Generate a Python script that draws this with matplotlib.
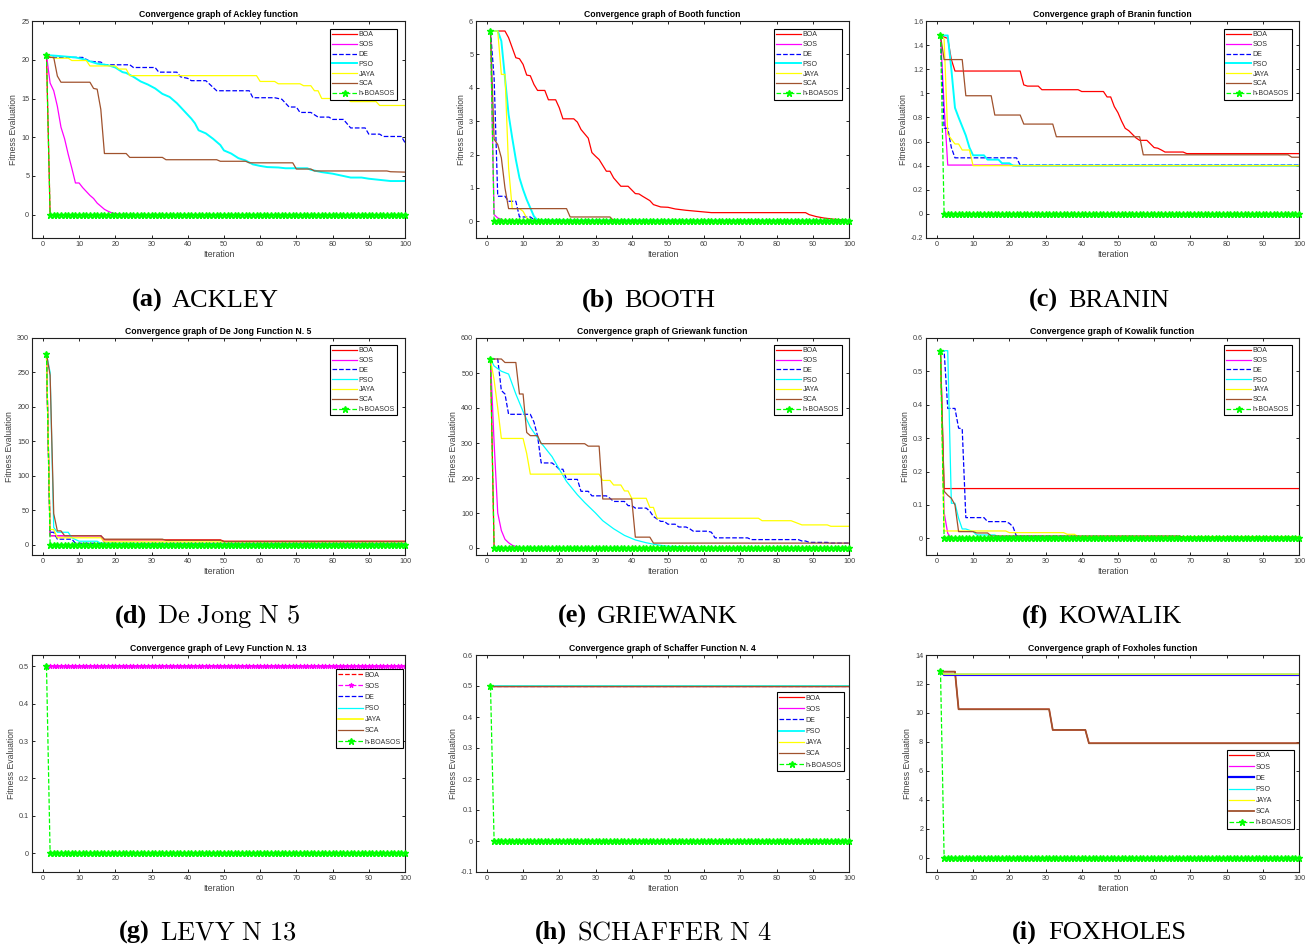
import matplotlib
matplotlib.use('Agg')
import matplotlib.pyplot as plt
from matplotlib.ticker import FormatStrFormatter

plt.rcParams['font.family'] = ['Liberation Sans', 'DejaVu Sans']
plt.rcParams['axes.unicode_minus'] = False

ALGOS = ['BOA', 'SOS', 'DE', 'PSO', 'JAYA', 'SCA', 'h-BOASOS']
ITER = list(range(1, 101))
XTICKS = list(range(0, 101, 10))

# ---------------- data: (iterations, fitness) ----------------
ackley = {
    'BOA': ([1, 2, 100], [20.6, 0, 0]),
    'SOS': ([1, 2, 3, 4, 5, 6, 7, 8, 9, 10, 11, 12, 13, 14, 15, 16, 17, 18, 19, 20, 21, 22, 100],
            [20.6, 17.0, 16.0, 14.0, 11.3, 9.8, 7.8, 6.0, 4.1, 4.1, 3.5, 3.0, 2.5, 2.1, 1.5, 1.1, 0.7,
             0.45, 0.25, 0.15, 0.08, 0.03, 0.0]),
    'DE': ([1, 2, 11, 13, 16, 17, 24, 25, 31, 32, 37, 38, 40, 41, 45, 48, 57, 58, 64, 66, 68, 70, 71, 74,
            76, 79, 80, 83, 85, 89, 90, 93, 94, 99, 100],
           [20.6, 20.3, 20.3, 19.8, 19.7, 19.35, 19.35, 19.0, 19.0, 18.4, 18.4, 17.8, 17.6, 17.3, 17.3,
            16.0, 16.0, 15.1, 15.1, 14.9, 13.9, 13.9, 13.2, 13.2, 12.6, 12.6, 12.3, 12.3, 11.2, 11.2,
            10.4, 10.4, 10.1, 10.1, 9.3]),
    'PSO': ([1, 4, 9, 11, 13, 15, 18, 20, 22, 23, 25, 27, 29, 31, 33, 35, 37, 39, 41, 42, 43, 45, 47, 49,
             50, 52, 54, 56, 58, 60, 62, 65, 67, 73, 74, 77, 80, 83, 85, 88, 90, 93, 96, 100],
            [20.6, 20.5, 20.3, 20.1, 19.8, 19.5, 19.3, 19.0, 18.4, 18.3, 17.8, 17.2, 16.8, 16.3, 15.6,
             15.2, 14.4, 13.4, 12.4, 11.8, 10.9, 10.5, 9.8, 9.0, 8.3, 7.9, 7.3, 7.0, 6.5, 6.3, 6.15, 6.1,
             6.0, 6.0, 5.8, 5.5, 5.3, 5.0, 4.8, 4.8, 4.65, 4.5, 4.35, 4.35]),
    'JAYA': ([1, 3, 7, 8, 12, 13, 20, 21, 23, 24, 59, 60, 64, 65, 71, 72, 74, 75, 76, 77, 84, 85, 92, 93, 100],
             [20.6, 20.2, 20.2, 19.9, 19.9, 19.2, 19.2, 18.8, 18.8, 17.95, 17.95, 17.2, 17.2, 16.9, 16.9,
              16.65, 16.65, 16.0, 16.0, 15.0, 15.0, 14.6, 14.6, 14.1, 14.1]),
    'SCA': ([1, 2, 3, 4, 5, 13, 14, 15, 16, 17, 23, 24, 33, 34, 48, 49, 56, 57, 69, 70, 74, 75, 95, 96, 100],
            [20.6, 20.3, 20.3, 17.9, 17.1, 17.1, 16.3, 16.2, 13.6, 7.9, 7.9, 7.4, 7.4, 7.1, 7.1, 6.9, 6.9,
             6.7, 6.7, 5.9, 5.9, 5.65, 5.65, 5.55, 5.5]),
}
ackley_h = [20.6] + [0.0] * 99

booth = {
    'BOA': ([1, 5, 6, 7, 8, 9, 10, 11, 12, 13, 14, 16, 17, 19, 20, 21, 24, 25, 26, 28, 29, 30, 31, 33, 34,
             35, 37, 39, 41, 42, 43, 45, 46, 48, 50, 52, 55, 58, 61, 62, 88, 89, 91, 93, 96, 99, 100],
            [5.7, 5.7, 5.5, 5.2, 4.9, 4.87, 4.7, 4.38, 4.36, 4.1, 3.92, 3.92, 3.64, 3.64, 3.4, 3.07, 3.07,
             2.97, 2.75, 2.49, 2.06, 1.95, 1.85, 1.5, 1.5, 1.3, 1.05, 1.05, 0.83, 0.82, 0.75, 0.62, 0.5,
             0.43, 0.42, 0.37, 0.33, 0.3, 0.27, 0.26, 0.26, 0.2, 0.14, 0.1, 0.06, 0.04, 0.02]),
    'SOS': ([1, 2, 3, 4, 5, 100], [5.7, 0.2, 0.1, 0.06, 0.0, 0.0]),
    'DE': ([1, 2, 3, 5, 6, 8, 9, 12, 13, 14, 100],
           [5.7, 4.3, 0.75, 0.75, 0.6, 0.6, 0.13, 0.13, 0.05, 0.0, 0.0]),
    'PSO': ([1, 3, 4, 5, 6, 7, 8, 9, 10, 11, 12, 13, 14, 100],
            [5.7, 5.7, 5.4, 4.3, 3.2, 2.5, 1.85, 1.3, 0.95, 0.65, 0.4, 0.15, 0.03, 0.02]),
    'JAYA': ([1, 3, 4, 5, 6, 7, 9, 10, 11, 12, 100],
             [5.7, 5.7, 4.4, 4.4, 1.6, 0.38, 0.38, 0.3, 0.1, 0.02, 0.02]),
    'SCA': ([1, 2, 3, 4, 5, 6, 22, 23, 34, 35, 100],
            [5.7, 2.46, 2.3, 1.9, 1.0, 0.38, 0.38, 0.13, 0.13, 0.02, 0.02]),
}
booth_h = [5.7] + [0.0] * 99

branin = {
    'BOA': ([1, 3, 4, 5, 23, 24, 25, 28, 29, 39, 40, 46, 47, 48, 49, 50, 51, 52, 53, 55, 56, 58, 60, 61,
             62, 63, 68, 69, 100],
            [1.48, 1.455, 1.28, 1.185, 1.185, 1.07, 1.06, 1.06, 1.03, 1.03, 1.015, 1.015, 0.97, 0.97,
             0.89, 0.84, 0.77, 0.71, 0.69, 0.63, 0.61, 0.61, 0.55, 0.545, 0.53, 0.513, 0.513, 0.50, 0.50]),
    'SOS': ([1, 2, 3, 20, 22, 100], [1.48, 0.9, 0.405, 0.405, 0.40, 0.40]),
    'DE': ([1, 2, 3, 4, 5, 22, 23, 100], [1.48, 0.71, 0.71, 0.55, 0.465, 0.465, 0.405, 0.405]),
    'PSO': ([1, 3, 4, 5, 6, 8, 9, 10, 13, 14, 17, 18, 20, 21, 100],
            [1.48, 1.48, 1.2, 0.88, 0.8, 0.65, 0.55, 0.486, 0.486, 0.45, 0.45, 0.42, 0.42, 0.40, 0.40]),
    'JAYA': ([1, 2, 3, 4, 5, 6, 7, 9, 10, 100],
             [1.48, 1.45, 0.66, 0.62, 0.58, 0.58, 0.53, 0.53, 0.40, 0.40]),
    'SCA': ([1, 2, 7, 8, 15, 16, 23, 24, 32, 33, 56, 57, 97, 98, 100],
            [1.48, 1.28, 1.28, 0.98, 0.98, 0.82, 0.82, 0.745, 0.745, 0.64, 0.64, 0.49, 0.49, 0.47, 0.47]),
}
branin_h = [1.48] + [0.0] * 99

dejong = {
    'BOA': ([1, 2, 16, 17, 49, 50, 100], [277, 13, 13, 7, 7, 5, 5]),
    'SOS': ([1, 2, 16, 17, 100], [277, 13, 13, 2, 2]),
    'DE': ([1, 2, 3, 4, 8, 9, 20, 21, 100], [277, 18, 18, 8, 8, 2, 2, 1, 1]),
    'PSO': ([1, 2, 3, 4, 7, 8, 10, 15, 16, 25, 26, 100], [277, 250, 25, 18, 18, 10, 5, 5, 2, 2, 1, 1]),
    'JAYA': ([1, 2, 3, 4, 16, 17, 100], [277, 22, 22, 10, 10, 4, 4]),
    'SCA': ([1, 2, 3, 4, 5, 6, 16, 17, 33, 34, 49, 50, 100],
            [277, 246, 45, 20, 20, 13, 13, 8, 8, 6.3, 6.3, 4.5, 4.5]),
}
dejong_h = [277] + [0.0] * 99

griewank = {
    'BOA': ([1, 2, 100], [540, 0, 0]),
    'SOS': ([1, 2, 3, 4, 5, 6, 7, 8, 9, 10, 100], [540, 300, 100, 50, 25, 15, 8, 4, 1, 0, 0]),
    'DE': ([1, 3, 4, 5, 6, 12, 13, 14, 15, 18, 19, 20, 21, 22, 25, 26, 28, 29, 33, 34, 35, 38, 39, 40, 41,
            44, 45, 46, 48, 49, 50, 52, 53, 55, 56, 57, 61, 62, 63, 72, 73, 86, 87, 88, 89, 94, 95, 100],
           [540, 540, 450, 440, 382, 382, 360, 320, 243, 243, 235, 225, 225, 196, 196, 162, 162, 149, 149,
            142, 133, 133, 121, 121, 114, 114, 105, 90, 76, 76, 68, 68, 60, 60, 55, 48, 48, 45, 29, 29,
            24, 24, 20, 20, 16, 16, 14, 14]),
    'PSO': ([1, 2, 4, 6, 8, 10, 12, 15, 18, 20, 22, 25, 27, 30, 32, 35, 38, 41, 44, 47, 50, 55, 60, 65, 100],
            [540, 520, 505, 497, 440, 390, 345, 300, 261, 225, 190, 152, 130, 100, 78, 55, 36, 23, 15, 9,
             5, 3, 2, 1, 0.5]),
    'JAYA': ([1, 2, 3, 4, 10, 11, 12, 31, 32, 34, 35, 37, 38, 39, 40, 44, 45, 46, 47, 75, 76, 84, 86, 87,
              94, 95, 100],
             [540, 480, 400, 313, 313, 270, 211, 211, 193, 193, 180, 180, 163, 163, 142, 142, 116, 116, 85,
              85, 78, 78, 70, 66, 66, 62, 62]),
    'SCA': ([1, 4, 5, 8, 9, 10, 11, 12, 14, 15, 27, 28, 31, 32, 40, 41, 45, 46, 100],
            [540, 540, 530, 530, 440, 440, 330, 321, 321, 298, 298, 291, 291, 140, 140, 31, 31, 14, 14]),
}
griewank_h = [540] + [0.0] * 99

kowalik = {
    'BOA': ([1, 2, 100], [0.562, 0.149, 0.149]),
    'SOS': ([1, 2, 3, 4, 100], [0.562, 0.077, 0.015, 0.0, 0.0]),
    'DE': ([1, 2, 3, 5, 6, 7, 8, 13, 14, 19, 20, 21, 22, 35, 36, 100],
           [0.562, 0.562, 0.389, 0.389, 0.33, 0.328, 0.062, 0.062, 0.05, 0.05, 0.045, 0.035, 0.006, 0.006,
            0.003, 0.003]),
    'PSO': ([1, 3, 4, 5, 6, 7, 8, 10, 11, 16, 17, 35, 36, 100],
            [0.562, 0.562, 0.105, 0.105, 0.06, 0.028, 0.028, 0.02, 0.01, 0.01, 0.005, 0.005, 0.002, 0.002]),
    'JAYA': ([1, 2, 19, 20, 35, 36, 38, 39, 100],
             [0.562, 0.022, 0.022, 0.017, 0.017, 0.012, 0.012, 0.005, 0.005]),
    'SCA': ([1, 2, 3, 4, 5, 6, 10, 11, 14, 15, 67, 68, 100],
            [0.562, 0.141, 0.129, 0.12, 0.1, 0.02, 0.02, 0.016, 0.016, 0.007, 0.007, 0.003, 0.003]),
}
kowalik_h = [0.562] + [0.0] * 99

levy = {
    'BOA': ([1, 100], [0.5, 0.5]),
    'SOS': (ITER, [0.5] * 100),
    'DE': ([1, 100], [0.5, 0.5]),
    'PSO': ([1, 100], [0.5, 0.5]),
    'JAYA': ([1, 100], [0.5, 0.5]),
    'SCA': ([1, 100], [0.5, 0.5]),
}
levy_h = [0.5] + [0.0] * 99

schaffer = {
    'BOA': ([1, 100], [0.5, 0.5]),
    'SOS': ([1, 100], [0.5, 0.5]),
    'DE': ([1, 100], [0.5, 0.5]),
    'PSO': ([1, 100], [0.5, 0.5]),
    'JAYA': ([1, 100], [0.5, 0.5]),
    'SCA': ([1, 100], [0.5, 0.5]),
}
schaffer_h = [0.5] + [0.0] * 99

foxholes = {
    'BOA': ([1, 5, 6, 31, 32, 41, 42, 100], [12.85, 12.85, 10.25, 10.25, 8.82, 8.82, 7.9, 7.9]),
    'SOS': ([1, 2, 100], [12.87, 12.65, 12.65]),
    'DE': ([1, 2, 100], [12.87, 12.62, 12.62]),
    'PSO': ([1, 2, 100], [12.87, 12.67, 12.67]),
    'JAYA': ([1, 2, 100], [12.87, 12.68, 12.68]),
    'SCA': ([1, 5, 6, 31, 32, 41, 42, 100], [12.85, 12.85, 10.25, 10.25, 8.82, 8.82, 7.9, 7.9]),
}
foxholes_h = [12.9] + [0.0] * 99

# ---------------- styles ----------------
BASE = {
    'BOA': dict(color='#ff0000', ls='-', lw=0.9),
    'SOS': dict(color='#ff00ff', ls='-', lw=0.9),
    'DE': dict(color='#0000ff', ls='--', lw=0.9),
    'PSO': dict(color='#00ffff', ls='-', lw=0.9),
    'JAYA': dict(color='#ffff00', ls='-', lw=0.9),
    'SCA': dict(color='#a0522d', ls='-', lw=0.9),
}
H_STYLE = dict(color='#00ff00', ls='--', lw=0.9, marker='*', ms=4.5, mew=1.0)

W, H = 1311, 944
COL_L = [32, 476, 926]
ROW_T = [21, 338, 655]
AX_W, AX_H = 373, 217

panels = [
    dict(d=ackley, h=ackley_h, title='Convergence graph of Ackley function', ylim=(-3, 25),
         yt=[0, 5, 10, 15, 20, 25], leg=(0.979, 0.963), sp=0.4, over={'PSO': dict(lw=1.4)},
         order=['BOA', 'SOS', 'DE', 'PSO', 'JAYA', 'SCA'],
         cap=('(a)', 'ACKLEY', 163, 172, 307, 'serif')),
    dict(d=booth, h=booth_h, title='Convergence graph of Booth function', ylim=(-0.5, 6),
         yt=[0, 1, 2, 3, 4, 5, 6], leg=(0.980, 0.963), sp=0.4, over={'PSO': dict(lw=1.4)},
         order=['BOA', 'SOS', 'DE', 'PSO', 'JAYA', 'SCA'],
         cap=('(b)', 'BOOTH', 614, 624, 307, 'serif')),
    dict(d=branin, h=branin_h, title='Convergence graph of Branin function', ylim=(-0.2, 1.6),
         yt=[-0.2, 0, 0.2, 0.4, 0.6, 0.8, 1.0, 1.2, 1.4, 1.6], leg=(0.980, 0.963), sp=0.4,
         over={'PSO': dict(lw=1.4)}, order=['BOA', 'SOS', 'DE', 'PSO', 'JAYA', 'SCA'],
         cap=('(c)', 'BRANIN', 1058, 1068, 307, 'serif')),
    dict(d=dejong, h=dejong_h, title='Convergence graph of De Jong Function N. 5', ylim=(-15, 300),
         yt=[0, 50, 100, 150, 200, 250, 300], leg=(0.979, 0.968), sp=0.4, over={},
         order=['BOA', 'SOS', 'DE', 'PSO', 'JAYA', 'SCA'],
         cap=('(d)', 'De Jong N 5', 147, 157, 623, 'cm')),
    dict(d=griewank, h=griewank_h, title='Convergence graph of Griewank function', ylim=(-20, 600),
         yt=[0, 100, 200, 300, 400, 500, 600], leg=(0.980, 0.968), sp=0.4, over={},
         order=['BOA', 'SOS', 'DE', 'PSO', 'JAYA', 'SCA'],
         cap=('(e)', 'GRIEWANK', 587, 597, 623, 'serif')),
    dict(d=kowalik, h=kowalik_h, title='Convergence graph of Kowalik function', ylim=(-0.05, 0.6),
         yt=[0, 0.1, 0.2, 0.3, 0.4, 0.5, 0.6], leg=(0.980, 0.968), sp=0.4, over={},
         order=['BOA', 'SOS', 'DE', 'PSO', 'JAYA', 'SCA'],
         cap=('(f)', 'KOWALIK', 1048, 1058, 623, 'serif')),
    dict(d=levy, h=levy_h, title='Convergence graph of Levy Function N. 13', ylim=(-0.05, 0.53),
         yt=[0, 0.1, 0.2, 0.3, 0.4, 0.5], leg=(0.995, 0.935), sp=0.6,
         over={'BOA': dict(ls='--'), 'SOS': dict(ls='--', marker='*', ms=3.5, mew=0.8),
               'JAYA': dict(lw=1.2)},
         order=['BOA', 'DE', 'PSO', 'JAYA', 'SCA', 'SOS'],
         cap=('(g)', 'LEVY N 13', 150, 160, 939, 'cm')),
    dict(d=schaffer, h=schaffer_h, title='Convergence graph of Schaffer Function N. 4', ylim=(-0.1, 0.6),
         yt=[-0.1, 0, 0.1, 0.2, 0.3, 0.4, 0.5, 0.6], leg=(0.987, 0.829), sp=0.6,
         over={'PSO': dict(lw=1.3)}, order=['BOA', 'SOS', 'DE', 'PSO', 'JAYA', 'SCA'],
         cap=('(h)', 'SCHAFFER N 4', 567, 577, 939, 'cm')),
    dict(d=foxholes, h=foxholes_h, title='Convergence graph of Foxholes function', ylim=(-1, 14),
         yt=[0, 2, 4, 6, 8, 10, 12, 14], leg=(0.987, 0.562), sp=0.6,
         over={'DE': dict(ls='-', lw=1.6), 'SCA': dict(lw=1.3)},
         order=['BOA', 'SCA', 'DE', 'SOS', 'PSO', 'JAYA'],
         cap=('(i)', 'FOXHOLES', 1037, 1048, 939, 'serif')),
]

fig = plt.figure(figsize=(W / 100, H / 100), dpi=100)
GRAY = '#404040'

for i, p in enumerate(panels):
    r, c = divmod(i, 3)
    ax = fig.add_axes([COL_L[c] / W, 1 - (ROW_T[r] + AX_H) / H, AX_W / W, AX_H / H])
    handles = {}
    for name in p['order']:
        st = dict(BASE[name])
        st.update(p['over'].get(name, {}))
        x, y = p['d'][name]
        ln, = ax.plot(x, y, **st)
        handles[name] = ln
    ln, = ax.plot(ITER, p['h'], clip_on=False, zorder=5, **H_STYLE)
    handles['h-BOASOS'] = ln

    ax.set_xlim(-3, 100)
    ax.set_ylim(*p['ylim'])
    ax.set_xticks(XTICKS)
    ax.set_yticks(p['yt'])
    ax.yaxis.set_major_formatter(FormatStrFormatter('%g'))
    ax.tick_params(direction='in', top=True, right=True, length=2.5, width=0.6,
                   labelsize=5.2, labelcolor=GRAY, pad=2)
    for s in ax.spines.values():
        s.set_linewidth(0.8)
        s.set_color('#202020')
    ax.set_title(p['title'], fontsize=6.2, fontweight='bold', pad=3)
    ax.set_xlabel('Iteration', fontsize=6.2, color=GRAY, labelpad=1.5)
    ax.set_ylabel('Fitness Evaluation', fontsize=6.2, color=GRAY, labelpad=2)

    leg = ax.legend([handles[n] for n in ALGOS], ALGOS, loc='upper right',
                    bbox_to_anchor=p['leg'], fontsize=5, handlelength=3.6, handletextpad=0.2,
                    labelspacing=p['sp'], borderpad=0.35, borderaxespad=0, frameon=True,
                    fancybox=False, framealpha=1, edgecolor='black')
    leg.get_frame().set_linewidth(0.8)
    for t in leg.get_texts():
        t.set_color('#303030')

    lab, nm, xr, xl, yb, fam = p['cap']
    fig.text(xr / W, 1 - yb / H, lab, ha='right', va='baseline', fontsize=19,
             fontweight='bold', family='Liberation Serif')
    if fam == 'cm':
        fig.text(xl / W, 1 - yb / H, r'$\mathrm{' + nm.replace(' ', r'\ ') + '}$', ha='left',
                 va='baseline', fontsize=19, math_fontfamily='cm')
    else:
        fig.text(xl / W, 1 - yb / H, nm, ha='left', va='baseline', fontsize=19,
                 family='Liberation Serif')

fig.savefig('out.png', dpi=100)
